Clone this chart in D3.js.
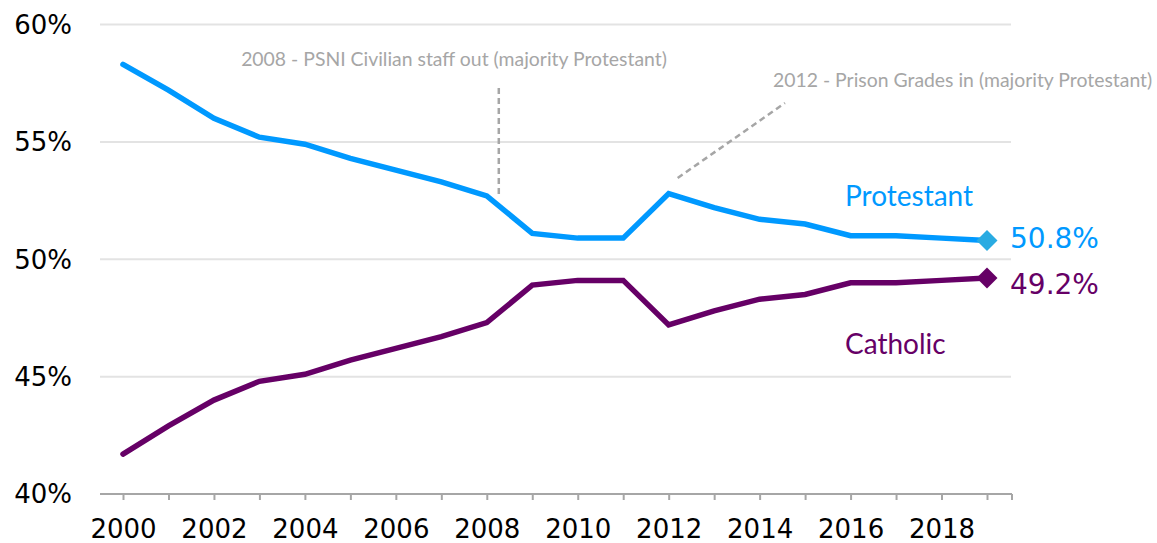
<!DOCTYPE html>
<head>
  <meta charset="utf-8">
  <script src="https://d3js.org/d3.v7.min.js"></script>
  <style>
    body { margin: 0; background: #fff; }
    svg text { font-family: Lato, "Open Sans", sans-serif; }
    svg text.num { font-family: "DejaVu Sans", sans-serif; }
  </style>
</head>
<body>
<svg id="chart" width="1157" height="543"></svg>
<script>
// years on the x axis
var years = [2000, 2001, 2002, 2003, 2004, 2005, 2006, 2007, 2008, 2009,
             2010, 2011, 2012, 2013, 2014, 2015, 2016, 2017, 2018, 2019];
// share of staff, %
var protestant = [58.3, 57.2, 56.0, 55.2, 54.9, 54.3, 53.8, 53.3, 52.7, 51.1,
                  50.9, 50.9, 52.8, 52.2, 51.7, 51.5, 51.0, 51.0, 50.9, 50.8];
var catholic = [41.7, 42.9, 44.0, 44.8, 45.1, 45.7, 46.2, 46.7, 47.3, 48.9,
                49.1, 49.1, 47.2, 47.8, 48.3, 48.5, 49.0, 49.0, 49.1, 49.2];
var yTicks = [40, 45, 50, 55, 60];
var xLabels = [2000, 2002, 2004, 2006, 2008, 2010, 2012, 2014, 2016, 2018];
var notes = [
  {year: 2008, text: "2008 - PSNI Civilian staff out (majority Protestant)"},
  {year: 2012, text: "2012 - Prison Grades in (majority Protestant)"}
];

var blue = "#0099ff", purple = "#660066", grey = "#a6a6a6";

var svg = d3.select("#chart");

var plotLeft = 100, plotRight = 1012, plotTop = 24.5, plotBottom = 494;

var x = d3.scalePoint().domain(years).range([123, 987]);
var y = d3.scaleLinear().domain([40, 60]).range([plotBottom, plotTop]);

// gridlines
svg.append("g")
  .selectAll("line")
  .data(yTicks.slice(1))
  .enter().append("line")
  .attr("x1", plotLeft).attr("x2", plotRight - 1)
  .attr("y1", function(d) { return y(d); })
  .attr("y2", function(d) { return y(d); })
  .attr("stroke", "#e3e3e3")
  .attr("stroke-width", 2);

// y labels
svg.append("g")
  .selectAll("text")
  .data(yTicks)
  .enter().append("text")
  .attr("class", "num")
  .attr("x", 72)
  .attr("y", function(d) { return y(d); })
  .attr("dy", "0.36em")
  .attr("text-anchor", "end")
  .attr("font-size", 26)
  .attr("fill", "#000")
  .text(function(d) { return d + "%"; });

// x axis
var xAxis = d3.axisBottom(x)
  .tickValues(years)
  .tickSize(6)
  .tickSizeOuter(0)
  .tickFormat(function(d) { return xLabels.indexOf(d) >= 0 ? d : ""; });

var gx = svg.append("g")
  .attr("transform", "translate(0," + plotBottom + ")")
  .call(xAxis);
gx.select(".domain").remove();
gx.selectAll(".tick line").attr("stroke", grey).attr("stroke-width", 2);
gx.selectAll(".tick text")
  .attr("class", "num")
  .attr("y", 44)
  .attr("dy", 0)
  .attr("font-size", 26)
  .attr("font-family", null)
  .attr("fill", "#000");
gx.attr("font-family", null).attr("font-size", null);
gx.append("line")
  .attr("x1", plotLeft).attr("x2", plotRight)
  .attr("y1", 0).attr("y2", 0)
  .attr("stroke", grey).attr("stroke-width", 2);
gx.append("line")
  .attr("x1", plotRight).attr("x2", plotRight)
  .attr("y1", 0).attr("y2", 6)
  .attr("stroke", grey).attr("stroke-width", 2);

// annotations
svg.append("text")
  .attr("x", 454).attr("y", 66)
  .attr("text-anchor", "middle")
  .attr("font-size", 19.4)
  .attr("fill", grey)
  .text(notes[0].text);
svg.append("line")
  .attr("x1", x(notes[0].year) + 12).attr("x2", x(notes[0].year) + 12)
  .attr("y1", 88).attr("y2", 194)
  .attr("stroke", grey).attr("stroke-width", 2.5)
  .attr("stroke-dasharray", "6,4");

svg.append("text")
  .attr("x", 773).attr("y", 87)
  .attr("font-size", 19.4)
  .attr("fill", grey)
  .text(notes[1].text);
svg.append("line")
  .attr("x1", x(notes[1].year) + 9).attr("y1", 178)
  .attr("x2", 785).attr("y2", 103)
  .attr("stroke", grey).attr("stroke-width", 2.5)
  .attr("stroke-dasharray", "6,4");

// lines
var line = d3.line()
  .x(function(d, i) { return x(years[i]); })
  .y(function(d) { return y(d); });

svg.append("path")
  .datum(protestant)
  .attr("d", line)
  .attr("fill", "none")
  .attr("stroke", blue)
  .attr("stroke-width", 5.5)
  .attr("stroke-linejoin", "miter")
  .attr("stroke-linecap", "round");

svg.append("path")
  .datum(catholic)
  .attr("d", line)
  .attr("fill", "none")
  .attr("stroke", purple)
  .attr("stroke-width", 5.5)
  .attr("stroke-linejoin", "miter")
  .attr("stroke-linecap", "round");

// end markers
var last = years.length - 1;
var diamond = d3.symbol().type(d3.symbolDiamond2).size(280);
svg.append("path")
  .attr("d", diamond)
  .attr("transform", "translate(" + x(years[last]) + "," + y(protestant[last]) + ")")
  .attr("fill", "#29abe2");
svg.append("path")
  .attr("d", diamond)
  .attr("transform", "translate(" + x(years[last]) + "," + y(catholic[last]) + ")")
  .attr("fill", purple);

// end values
svg.append("text")
  .attr("class", "num")
  .attr("x", 1010).attr("y", 248)
  .attr("font-size", 28)
  .attr("fill", blue)
  .text(protestant[last].toFixed(1) + "%");
svg.append("text")
  .attr("class", "num")
  .attr("x", 1010).attr("y", 294)
  .attr("font-size", 28)
  .attr("fill", purple)
  .text(catholic[last].toFixed(1) + "%");

// series labels
svg.append("text")
  .attr("x", 845).attr("y", 206)
  .attr("font-size", 28)
  .attr("fill", blue)
  .text("Protestant");
svg.append("text")
  .attr("x", 845).attr("y", 354)
  .attr("font-size", 28)
  .attr("fill", purple)
  .text("Catholic");
</script>
</body>
</html>
